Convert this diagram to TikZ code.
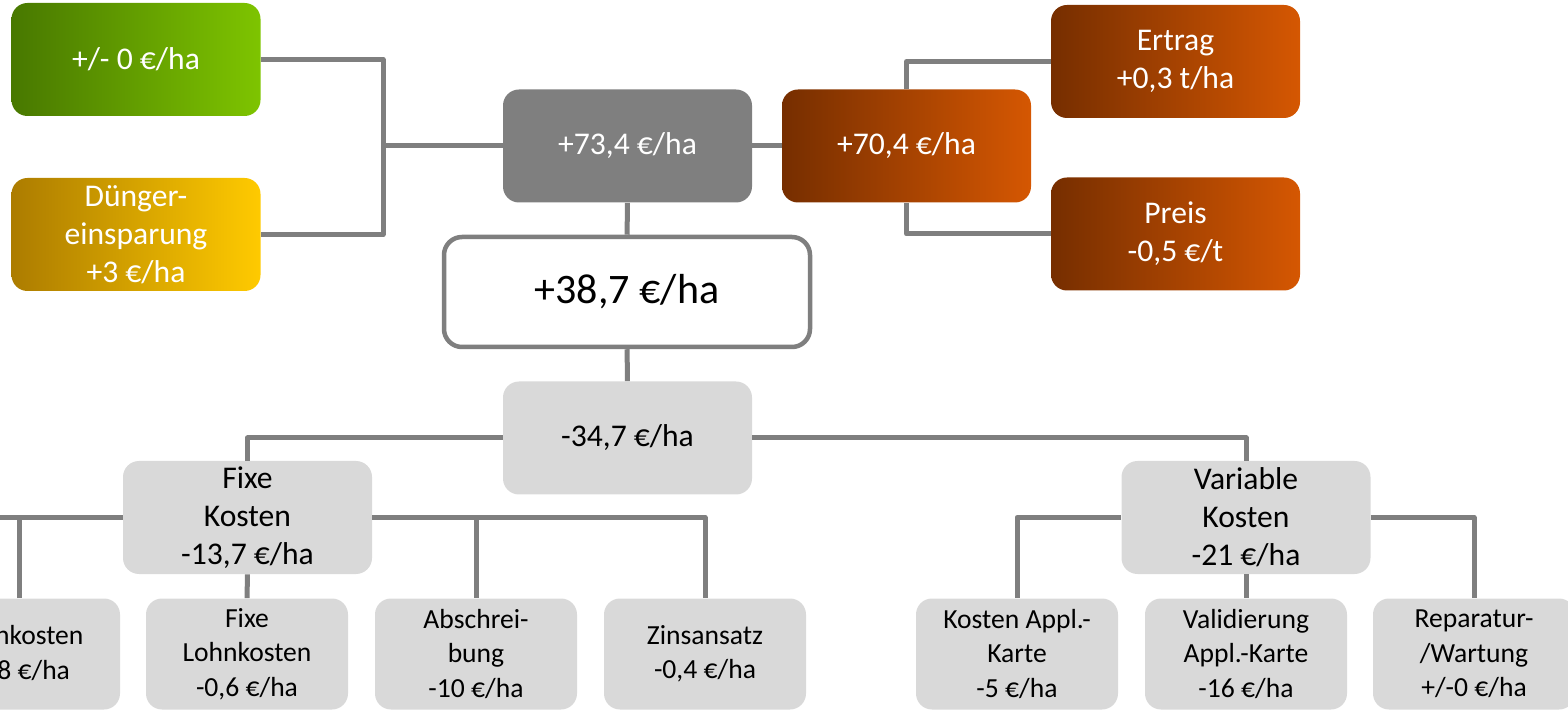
\documentclass[tikz,border=0pt]{standalone}
\usepackage{fontspec}
\setmainfont{Carlito}
\usepackage{xcolor}
\usepackage{tikz}
\definecolor{linie}{HTML}{7F7F7F}
\definecolor{dunkelgrau}{HTML}{7F7F7F}
\definecolor{hellgrau}{HTML}{D9D9D9}
\definecolor{gruenL}{HTML}{487800}
\definecolor{gruenR}{HTML}{7EC400}
\definecolor{gelbL}{HTML}{AC7C00}
\definecolor{gelbR}{HTML}{FFCA00}
\definecolor{orangeL}{HTML}{762E00}
\definecolor{orangeR}{HTML}{D55702}

\begin{document}
\begin{tikzpicture}[x=0.5pt,y=-0.5pt,
  kasten/.style={rounded corners=8pt,minimum width=124.5pt,minimum height=56.5pt,inner sep=0pt,align=center,font=\fontsize{15.8}{19}\selectfont},
  gruenbox/.style={kasten,left color=gruenL,right color=gruenR,text=white},
  gelbbox/.style={kasten,left color=gelbL,right color=gelbR,text=white},
  orangebox/.style={kasten,left color=orangeL,right color=orangeR,text=white},
  graubox/.style={kasten,fill=dunkelgrau,text=white},
  hellbox/.style={kasten,fill=hellgrau},
  blatt/.style={hellbox,minimum width=101pt,minimum height=55.5pt,font=\fontsize{13.8}{17.25}\selectfont},
  verb/.style={draw=linie,line width=2.5pt,line join=round}]
\useasboundingbox (0,0) rectangle (1568,710);
\clip (0,0) rectangle (1568,710);

\node[gruenbox] (duengung) at (136,59.5) {+/- 0 €/ha};
\node[gelbbox] (einsparung) at (136,234.5) {Dünger-\\einsparung\\+3 €/ha};
\node[graubox] (leistung) at (627.5,146) {+73,4 €/ha};
\node[orangebox] (erloes) at (906.5,146) {+70,4 €/ha};
\node[orangebox] (ertrag) at (1175.5,61.5) {Ertrag\\+0,3 t/ha};
\node[orangebox] (preis) at (1175.5,234) {Preis\\-0,5 €/t};
\node[kasten,draw=linie,line width=2.25pt,fill=white,minimum width=183pt,minimum height=55pt,rounded corners=9pt,font=\fontsize{21}{25}\selectfont] (gewinn) at (627,292) {+38,7 €/ha};
\node[hellbox] (kosten) at (627.5,438) {-34,7 €/ha};
\node[hellbox] (fix) at (247.5,517.5) {Fixe\\Kosten\\-13,7 €/ha};
\node[hellbox] (var) at (1246,517.5) {Variable\\Kosten\\-21 €/ha};
\node[blatt] (lohn) at (19,654) {Lohnkosten\\-2,8 €/ha};
\node[blatt] (fixlohn) at (247,654) {Fixe\\Lohnkosten\\-0,6 €/ha};
\node[blatt] (abschr) at (476,654) {Abschrei-\\bung\\-10 €/ha};
\node[blatt] (zins) at (705,654) {Zinsansatz\\-0,4 €/ha};
\node[blatt] (appl) at (1017,654) {Kosten Appl.-\\Karte\\-5 €/ha};
\node[blatt] (valid) at (1246,654) {Validierung\\Appl.-Karte\\-16 €/ha};
\node[blatt] (rep) at (1474,654) {Reparatur-\\/Wartung\\+/-0 €/ha};

\coordinate (knoten) at (383,146);
\coordinate (rand) at (-20,517.5);

\draw[verb] (duengung) -| (knoten) |- (einsparung);
\draw[verb] (knoten) -- (leistung);
\draw[verb] (leistung) -- (erloes);
\draw[verb] (erloes) |- (ertrag);
\draw[verb] (erloes) |- (preis);
\draw[verb] (leistung) -- (gewinn);
\draw[verb] (gewinn) -- (kosten);
\draw[verb] (kosten) -| (fix);
\draw[verb] (kosten) -| (var);
\draw[verb] (rand) -- (fix);
\draw[verb] (lohn) |- (fix);
\draw[verb] (fix) -- (fixlohn);
\draw[verb] (fix) -| (abschr);
\draw[verb] (fix) -| (zins);
\draw[verb] (var) -| (appl);
\draw[verb] (var) -- (valid);
\draw[verb] (var) -| (rep);
\end{tikzpicture}
\end{document}
